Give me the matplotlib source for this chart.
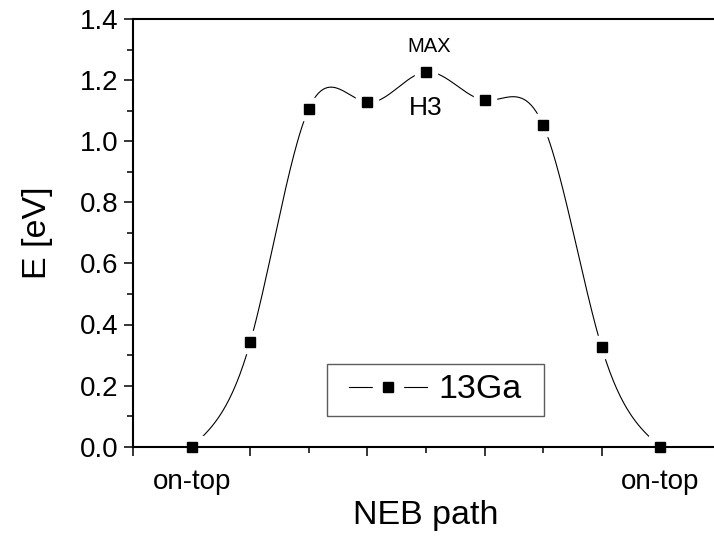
import numpy as np
import matplotlib.pyplot as plt
from matplotlib.lines import Line2D
from matplotlib.path import Path
from matplotlib.legend_handler import HandlerTuple

plt.rcParams['font.family'] = ['Liberation Sans', 'DejaVu Sans']

# NEB images along the path and their energies
images = [1, 2, 3, 4, 5, 6, 7, 8, 9]
energy = [0.0, 0.343, 1.107, 1.127, 1.227, 1.134, 1.053, 0.325, 0.0]
end_labels = ['on-top', '', '', '', 'on-top']
series_name = '13Ga'


def natural_spline(x, y, n=400):
    # natural cubic spline through the points (zero curvature at both ends)
    x = np.asarray(x, float)
    y = np.asarray(y, float)
    h = np.diff(x)
    k = len(x)
    A = np.zeros((k, k))
    b = np.zeros(k)
    A[0, 0] = A[-1, -1] = 1.0
    for i in range(1, k - 1):
        A[i, i - 1] = h[i - 1]
        A[i, i] = 2 * (h[i - 1] + h[i])
        A[i, i + 1] = h[i]
        b[i] = 6 * ((y[i + 1] - y[i]) / h[i] - (y[i] - y[i - 1]) / h[i - 1])
    M = np.linalg.solve(A, b)
    xs = np.linspace(x[0], x[-1], n)
    j = np.clip(np.searchsorted(x, xs) - 1, 0, k - 2)
    t0 = x[j + 1] - xs
    t1 = xs - x[j]
    hj = h[j]
    ys = (M[j] * t0**3 + M[j + 1] * t1**3) / (6 * hj) \
        + (y[j] / hj - M[j] * hj / 6) * t0 + (y[j + 1] / hj - M[j + 1] * hj / 6) * t1
    return xs, ys


def wide_box(x0, y0, width, height, mutation_size):
    # legend frame with more room left/right than top/bottom
    px = 0.38 * mutation_size
    py = 0.06 * mutation_size
    x0, x1 = x0 - px, x0 + width + px
    y0, y1 = y0 - py, y0 + height + py
    return Path([(x0, y0), (x1, y0), (x1, y1), (x0, y1), (x0, y0)], closed=True)


fig = plt.figure(figsize=(7.14, 5.41), dpi=100)
ax = fig.add_axes([133.2 / 714, 1 - 446.7 / 541, 585.6 / 714, 427.7 / 541])

xs, ys = natural_spline(images, energy)
ax.plot(xs, ys, color='black', lw=0.8, zorder=1)
# white squares leave a gap in the curve around each symbol
ax.plot(images, energy, ls='none', marker='s', ms=16, mfc='white', mec='white', zorder=1.2)
ax.plot(images, energy, ls='none', marker='s', ms=6.8, color='black', zorder=3, clip_on=False)

ax.set_xlim(0, 10)
ax.set_ylim(0, 1.4)

ax.set_xticks([0, 2, 4, 6, 8, 10], labels=[''] * 6)
ax.set_xticks([1, 3, 5, 7, 9], labels=end_labels, minor=True)
ax.set_yticks(np.arange(0, 1.41, 0.2), labels=[f'{v:.1f}' for v in np.arange(0, 1.41, 0.2)])
ax.set_yticks(np.arange(0.1, 1.4, 0.2), minor=True)

ax.tick_params(which='major', direction='out', length=6.5, width=1.1, labelsize=20, pad=4)
ax.tick_params(which='minor', direction='out', length=4, width=1.1, labelsize=20)
ax.tick_params(axis='x', which='minor', pad=12)
for s in ax.spines.values():
    s.set_linewidth(1.5)

ax.set_xlabel('NEB path', fontsize=24.5, labelpad=4)
ax.set_ylabel('E [eV]', fontsize=24.5, labelpad=19.5)

ax.text(5.06, 1.309, 'MAX', fontsize=14.5, ha='center', va='center')
ax.text(5.0, 1.108, 'H3', fontsize=19, ha='center', va='center')

line_h = Line2D([], [], color='black', lw=0.8)
gap_h = Line2D([], [], ls='none', marker='s', ms=21, mfc='white', mec='white')
mark_h = Line2D([], [], ls='none', marker='s', ms=6.8, color='black')
leg = ax.legend([(line_h, gap_h, mark_h)], [series_name],
                handler_map={tuple: HandlerTuple(ndivide=1)},
                loc='center', bbox_to_anchor=(0.516, 0.1326), fontsize=24.5,
                frameon=True, fancybox=False, edgecolor='#333333',
                handlelength=2.3, handletextpad=0.35, borderpad=0.25,
                borderaxespad=0)
leg.get_frame().set_linewidth(1.0)
leg.get_frame().set_boxstyle(wide_box)

fig.savefig('out.png', dpi=100)
